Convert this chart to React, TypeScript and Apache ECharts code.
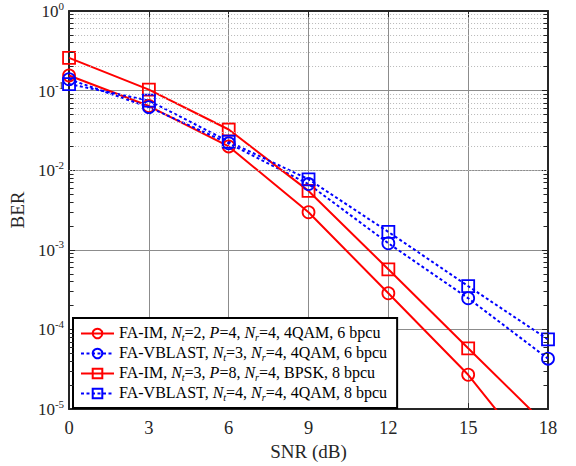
import React, { useEffect, useRef } from "react";
import * as echarts from "echarts";

const snr = [0, 3, 6, 9, 12, 15, 18];
const faIm6 = [0.155, 0.064, 0.0199, 0.00297, 0.000285, 2.7e-5, 1.5e-6];
const vblast6 = [0.139, 0.062, 0.0218, 0.0067, 0.00121, 0.000247, 4.3e-5];
const faIm8 = [0.258, 0.103, 0.0325, 0.0055, 0.00057, 5.8e-5, 6.0e-6];
const vblast8 = [0.121, 0.075, 0.0229, 0.0077, 0.00168, 0.00035, 7.5e-5];

const seriesNames = [
  "FA-IM, Nt=2, P=4, Nr=4, 4QAM, 6 bpcu",
  "FA-VBLAST, Nt=3, Nr=4, 4QAM, 6 bpcu",
  "FA-IM, Nt=3, P=8, Nr=4, BPSK, 8 bpcu",
  "FA-VBLAST, Nt=4, Nr=4, 4QAM, 8 bpcu",
];
const richNames: Record<string, string> = {
  [seriesNames[0]]: "{t|FA-IM, }{i|N}{sub|t}{t|=2, }{i|P}{t|=4, }{i|N}{sub|r}{t|=4, 4QAM, 6 bpcu}",
  [seriesNames[1]]: "{t|FA-VBLAST, }{i|N}{sub|t}{t|=3, }{i|N}{sub|r}{t|=4, 4QAM, 6 bpcu}",
  [seriesNames[2]]: "{t|FA-IM, }{i|N}{sub|t}{t|=3, }{i|P}{t|=8, }{i|N}{sub|r}{t|=4, BPSK, 8 bpcu}",
  [seriesNames[3]]: "{t|FA-VBLAST, }{i|N}{sub|t}{t|=4, }{i|N}{sub|r}{t|=4, 4QAM, 8 bpcu}",
};

const minorValues: number[] = [];
for (let e = -5; e <= -1; e++) {
  for (let k = 2; k <= 9; k++) minorValues.push(Number((k * Math.pow(10, e)).toPrecision(3)));
}

const FONT = "Liberation Serif";
const AXIS_COLOR = "#262626";

export default function App() {
  const ref = useRef<HTMLDivElement>(null);
  useEffect(() => {
    const chart = echarts.init(ref.current!, null, { renderer: "svg" });
    const mk = (
      name: string,
      values: number[],
      color: string,
      symbol: string,
      dashed: boolean
    ) => ({
      name,
      type: "line",
      z: 3,
      data: snr.map((x, i) => [x, values[i]]),
      symbol,
      symbolSize: 12,
      showSymbol: true,
      lineStyle: { color, width: 2, type: dashed ? [3, 2.5] : "solid" },
      itemStyle: { color: "rgba(0,0,0,0)", borderColor: color, borderWidth: 1.8 },
      emphasis: { disabled: true },
    });

    const gridLines = minorValues.map((v) => ({
      yAxis: v,
      lineStyle: { color: "#b8b8b8", width: 1, type: [1, 2] },
    }));
    const leftTicks = minorValues.map((v) => [
      { coord: [0, v], lineStyle: { color: AXIS_COLOR, width: 1, type: "solid" } },
      { coord: [0.17, v] },
    ]);
    const rightTicks = minorValues.map((v) => [
      { coord: [17.83, v], lineStyle: { color: AXIS_COLOR, width: 1, type: "solid" } },
      { coord: [18, v] },
    ]);

    const yLabel = {
      fontFamily: FONT,
      color: AXIS_COLOR,
      margin: 5,
      formatter: (v: number) => `{b|10}{s|${Math.round(Math.log10(v))}}`,
      rich: {
        b: { fontFamily: FONT, fontSize: 17, lineHeight: 18, verticalAlign: "bottom", color: AXIS_COLOR },
        s: { fontFamily: FONT, fontSize: 11, lineHeight: 11, verticalAlign: "bottom", padding: [0, 0, 9, 0], color: AXIS_COLOR },
      },
    };

    chart.setOption({
      animation: false,
      backgroundColor: "#ffffff",
      grid: { left: 65, top: 7.5, right: 28, bottom: 54.5, containLabel: false },
      legend: {
        data: seriesNames,
        orient: "vertical",
        left: 73,
        top: 318,
        itemWidth: 33,
        itemHeight: 12,
        itemGap: 2,
        padding: [6, 10, 6, 7],
        borderColor: "#000",
        borderWidth: 2,
        borderRadius: 0,
        backgroundColor: "#fff",
        selectedMode: false,
        formatter: (name: string) => richNames[name] || name,
        textStyle: {
          fontFamily: FONT,
          fontSize: 16,
          color: "#000",
          rich: {
            t: { fontFamily: FONT, fontSize: 16, lineHeight: 17, verticalAlign: "bottom", padding: [0, 0, 2, 0], color: "#000" },
            i: { fontFamily: FONT, fontSize: 16, fontStyle: "italic", lineHeight: 17, verticalAlign: "bottom", padding: [0, 0, 2, 0], color: "#000" },
            sub: { fontFamily: FONT, fontSize: 10, fontStyle: "italic", lineHeight: 10, verticalAlign: "bottom", color: "#000" },
          },
        },
      },
      xAxis: [
        {
          type: "value",
          min: 0,
          max: 18,
          interval: 3,
          name: "SNR (dB)",
          nameLocation: "middle",
          nameGap: 32,
          nameTextStyle: { fontFamily: FONT, fontSize: 19, color: AXIS_COLOR },
          axisLine: { show: true, onZero: false, lineStyle: { color: AXIS_COLOR, width: 2 } },
          axisTick: { show: true, inside: true, length: 6, lineStyle: { color: AXIS_COLOR, width: 1 } },
          axisLabel: { fontFamily: FONT, fontSize: 18.5, color: AXIS_COLOR, margin: 9 },
          splitLine: { show: true, lineStyle: { color: "#8c8c8c", width: 1 } },
        },
        {
          type: "value",
          position: "top",
          min: 0,
          max: 18,
          interval: 3,
          axisLine: { show: true, onZero: false, lineStyle: { color: AXIS_COLOR, width: 2 } },
          axisTick: { show: true, inside: true, length: 6, lineStyle: { color: AXIS_COLOR, width: 1 } },
          axisLabel: { show: false },
          splitLine: { show: false },
        },
      ],
      yAxis: [
        {
          type: "log",
          logBase: 10,
          min: 1e-5,
          max: 1,
          name: "BER",
          nameLocation: "middle",
          nameGap: 31,
          nameTextStyle: { fontFamily: FONT, fontSize: 19, color: AXIS_COLOR },
          axisLine: { show: true, onZero: false, lineStyle: { color: AXIS_COLOR, width: 2 } },
          axisTick: { show: true, inside: true, length: 6, lineStyle: { color: AXIS_COLOR, width: 1 } },
          axisLabel: yLabel,
          splitLine: { show: true, lineStyle: { color: "#8c8c8c", width: 1 } },
        },
        {
          type: "log",
          logBase: 10,
          min: 1e-5,
          max: 1,
          position: "right",
          axisLine: { show: true, onZero: false, lineStyle: { color: AXIS_COLOR, width: 2 } },
          axisTick: { show: true, inside: true, length: 6, lineStyle: { color: AXIS_COLOR, width: 1 } },
          axisLabel: { show: false },
          splitLine: { show: false },
        },
      ],
      series: [
        {
          name: "minor-grid",
          type: "line",
          z: 1,
          data: [],
          silent: true,
          markLine: {
            silent: true,
            symbol: ["none", "none"],
            label: { show: false },
            emphasis: { disabled: true },
            data: [...gridLines, ...leftTicks, ...rightTicks],
          },
        },
        mk(seriesNames[0], faIm6, "#ff0000", "circle", false),
        mk(seriesNames[1], vblast6, "#0000ff", "circle", true),
        mk(seriesNames[2], faIm8, "#ff0000", "rect", false),
        mk(seriesNames[3], vblast8, "#0000ff", "rect", true),
      ],
    });
    return () => chart.dispose();
  }, []);
  return <div ref={ref} style={{ width: 576, height: 466, position: "absolute", left: 0, top: 0 }} />;
}
